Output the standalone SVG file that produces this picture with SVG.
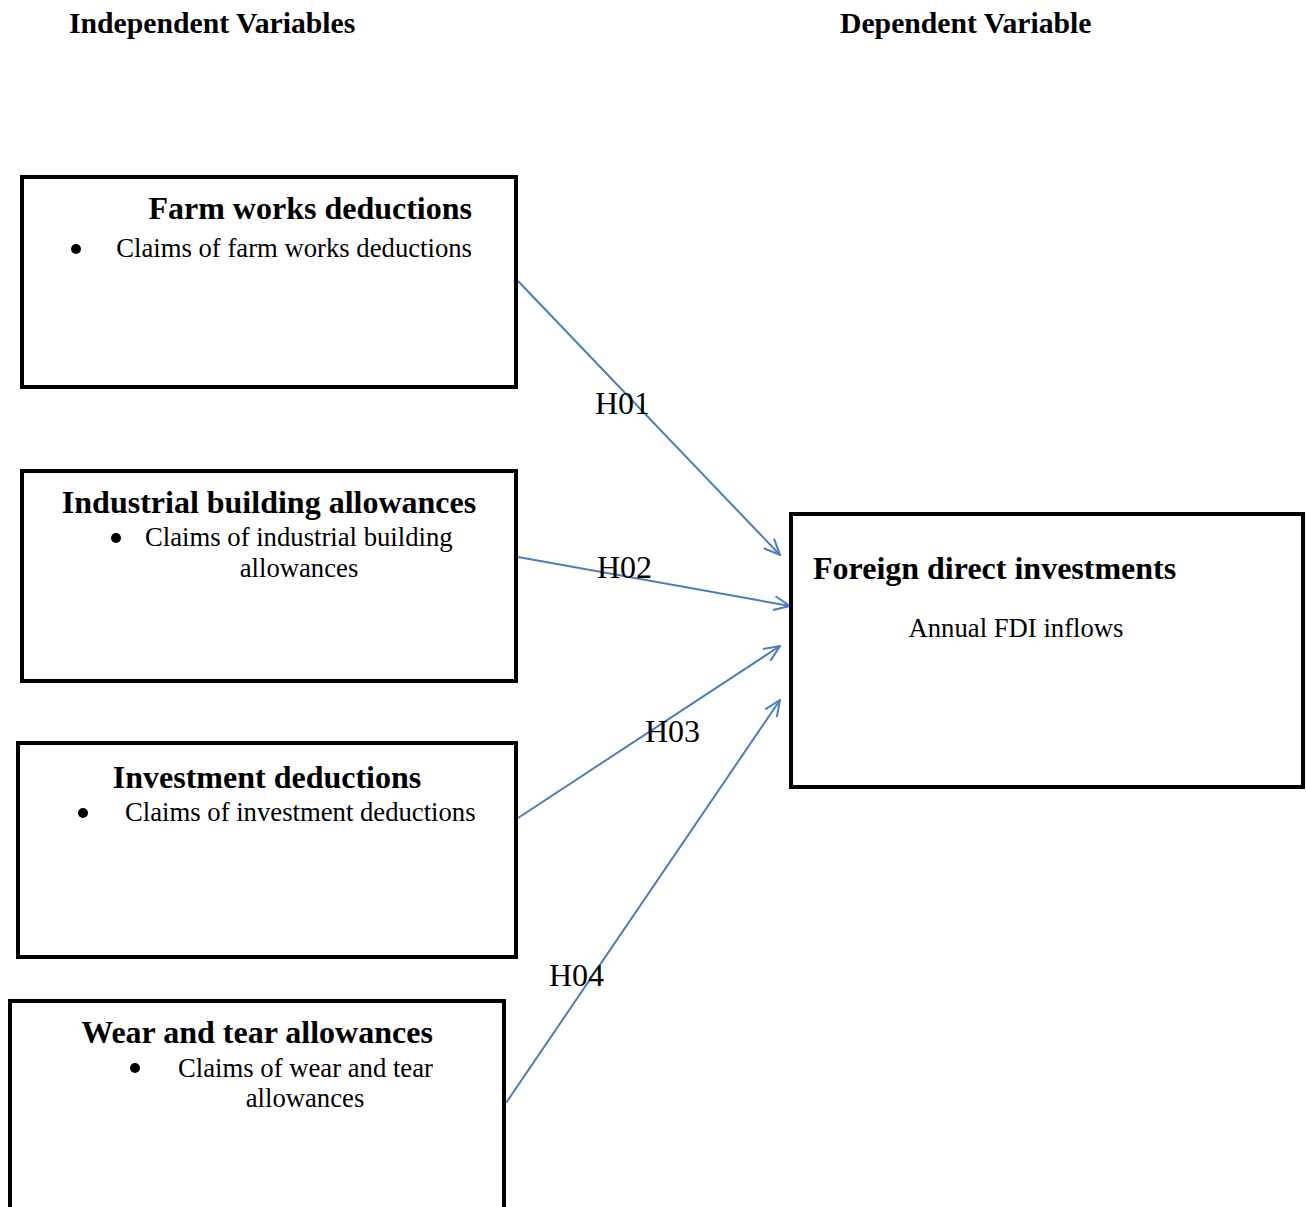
<svg xmlns="http://www.w3.org/2000/svg" width="1306" height="1207" viewBox="0 0 1306 1207">
<style>
.box{fill:#fff;stroke:#000;stroke-width:4}
.hd{font-family:"Liberation Serif",serif;font-weight:bold;font-size:29.7px;fill:#000}
.tt{font-family:"Liberation Serif",serif;font-weight:bold;font-size:32px;fill:#000}
.tx{font-family:"Liberation Serif",serif;font-size:26.7px;fill:#000}
.lb{font-family:"Liberation Serif",serif;font-size:32px;fill:#000}
.ed{stroke:#4a7ebb;stroke-width:2;fill:none;marker-end:url(#ah)}
</style>
<defs>
<marker id="ah" viewBox="0 0 20 20" refX="19" refY="10" markerWidth="20" markerHeight="20" markerUnits="userSpaceOnUse" orient="auto">
<path d="M3,3 L19,10 L3,17" fill="none" stroke="#4a7ebb" stroke-width="2"/>
</marker>
</defs>
<rect width="1306" height="1207" fill="#fff"/>
<g id="headers">
<text class="hd" x="69" y="33">Independent Variables</text>
<text class="hd" x="840" y="33">Dependent Variable</text>
</g>
<g id="connectors">
<line class="ed" x1="518" y1="281" x2="780" y2="555"/>
<line class="ed" x1="518" y1="557" x2="790" y2="606"/>
<line class="ed" x1="518" y1="818" x2="780" y2="646"/>
<line class="ed" x1="506" y1="1103" x2="780" y2="700"/>
</g>
<g id="node-farm">
<rect class="box" x="22" y="177" width="494" height="210"/>
<text class="tt" x="472" y="219" text-anchor="end">Farm works deductions</text>
<circle cx="76" cy="249" r="5"/>
<text class="tx" x="472" y="257" text-anchor="end">Claims of farm works deductions</text>
</g>
<g id="node-industrial">
<rect class="box" x="22" y="471" width="494" height="210"/>
<text class="tt" x="269" y="513" text-anchor="middle">Industrial building allowances</text>
<circle cx="116" cy="538" r="5"/>
<text class="tx" x="145" y="546">Claims of industrial building</text>
<text class="tx" x="299" y="577" text-anchor="middle">allowances</text>
</g>
<g id="node-investment">
<rect class="box" x="18" y="743" width="498" height="214"/>
<text class="tt" x="267" y="788" text-anchor="middle">Investment deductions</text>
<circle cx="83" cy="813" r="5"/>
<text class="tx" x="125" y="821">Claims of investment deductions</text>
</g>
<g id="node-wear">
<rect class="box" x="10" y="1001" width="494" height="230"/>
<text class="tt" x="257" y="1043" text-anchor="middle">Wear and tear allowances</text>
<circle cx="135" cy="1068" r="5"/>
<text class="tx" x="178" y="1077">Claims of wear and tear</text>
<text class="tx" x="305" y="1107" text-anchor="middle">allowances</text>
</g>
<g id="node-fdi">
<rect class="box" x="791" y="514" width="512" height="273"/>
<text class="tt" x="813" y="579">Foreign direct investments</text>
<text class="tx" x="1016" y="637" text-anchor="middle">Annual FDI inflows</text>
</g>
<g id="labels">
<text class="lb" x="595" y="414">H01</text>
<text class="lb" x="597" y="578">H02</text>
<text class="lb" x="645" y="742">H03</text>
<text class="lb" x="549" y="986">H04</text>
</g>
</svg>
